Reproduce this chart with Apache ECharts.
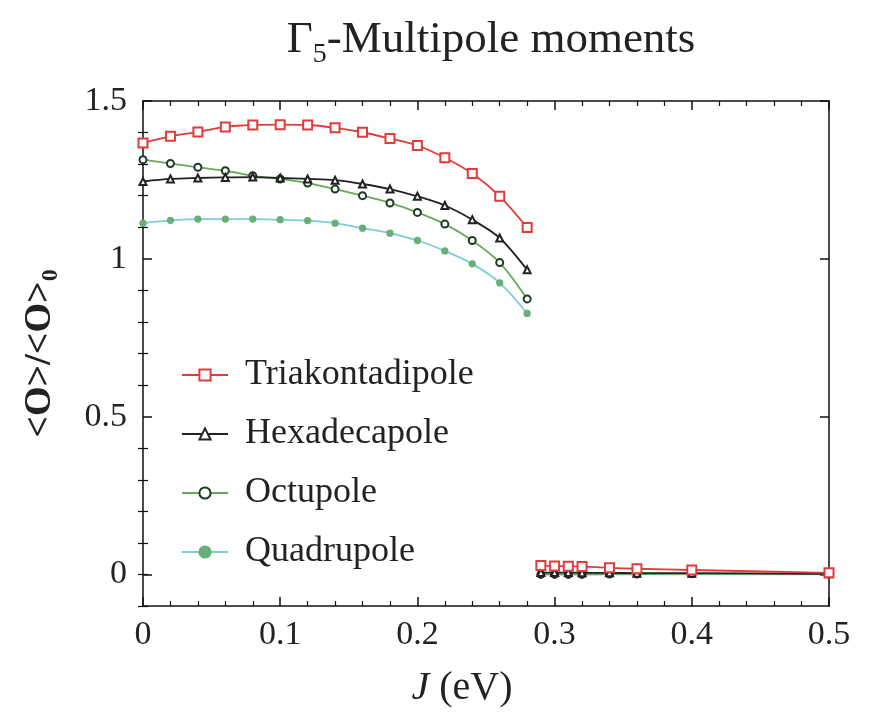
<!DOCTYPE html>
<html><head><meta charset="utf-8">
<script src="https://cdn.jsdelivr.net/npm/echarts@6/dist/echarts.min.js"></script>
<style>html,body{margin:0;padding:0;background:#fff}#c{width:879px;height:718px}</style>
</head><body><div id="c"></div>
<script>
// ---- data ----
const jHigh = [0,0.02,0.04,0.06,0.08,0.10,0.12,0.14,0.16,0.18,0.20,0.22,0.24,0.26,0.28];
const triHigh = [1.367,1.388,1.402,1.418,1.424,1.425,1.424,1.415,1.401,1.381,1.359,1.320,1.270,1.198,1.099];
const hexHigh = [1.245,1.253,1.256,1.258,1.259,1.256,1.253,1.249,1.237,1.221,1.198,1.169,1.124,1.066,0.965];
const octHigh = [1.314,1.302,1.290,1.279,1.263,1.253,1.240,1.221,1.200,1.177,1.147,1.110,1.058,0.988,0.873];
const quaHigh = [1.113,1.122,1.126,1.126,1.126,1.124,1.121,1.113,1.097,1.081,1.058,1.025,0.984,0.924,0.827];

const jLow = [0.29,0.30,0.31,0.32,0.34,0.36,0.40,0.50];
const triLow = [0.028,0.027,0.026,0.025,0.021,0.018,0.014,0.005];
const hexLow = [0.006,0.006,0.006,0.005,0.005,0.004,0.004,0.002];
const octLow = [0.000,0.000,0.000,0.000,0.001,0.001,0.002,0.001];
const quaLow = [0.000,0.000,0.000,0.000,0.000,0.000,0.000,0.000];

const names = ['Triakontadipole','Hexadecapole','Octupole','Quadrupole'];
const xTicks = [0,0.1,0.2,0.3,0.4,0.5];
const yMajorTicks = [0,0.5,1,1.5];
const yMinorTicks = [-0.1,0,0.1,0.2,0.3,0.4,0.6,0.7,0.8,0.9,1.1,1.2,1.3,1.4];

const pair = (xs, ys) => xs.map((x,i)=>[x, ys[i]]);

const serif = '"Liberation Serif","DejaVu Serif",serif';
const styles = [
  {symbol:'emptyRect', size:9, line:'#e23b3b', item:'#e23b3b', z:5},
  {symbol:'emptyTriangle', size:7, line:'#222', item:'#222', z:4},
  {symbol:'emptyCircle', size:7, line:'#6aa85a', item:'#1f3a22', z:3},
  {symbol:'circle', size:6, line:'#7ccfd6', item:'#6aae78', z:2}
];
const highs = [triHigh, hexHigh, octHigh, quaHigh];
const lows = [triLow, hexLow, octLow, quaLow];

const series = [];
names.forEach((n,i)=>{
  const s = styles[i];
  [[jHigh, highs[i]],[jLow, lows[i]]].forEach(([xs,ys])=>{
    series.push({
      name:n, type:'line', smooth:0.3, data:pair(xs,ys),
      symbol:s.symbol, symbolSize:s.size, z:s.z,
      lineStyle:{color:s.line, width:1.8},
      itemStyle:{color:s.item, borderColor:s.item, borderWidth:1.3},
      emphasis:{disabled:true}, animation:false
    });
  });
});

const chart = echarts.init(document.getElementById('c'));
const baseY = {type:'value', min:-0.1, max:1.5, splitLine:{show:false}, axisLine:{show:true, onZero:false, lineStyle:{color:'#111', width:1.5}}};
chart.setOption({
  animation:false,
  title:{
    text:'Γ{sub|5}-Multipole moments', left:486, textAlign:'center', top:6,
    textStyle:{fontFamily:serif, fontSize:45, fontWeight:'normal', color:'#222',
      rich:{sub:{fontFamily:serif, fontSize:28, verticalAlign:'bottom', padding:[30,0,0,0], color:'#222'}}}
  },
  grid:{left:143, top:101, right:50, bottom:112},
  legend:{
    data:names, orient:'vertical', left:176, top:350, itemWidth:46, itemHeight:14, itemGap:19,
    textStyle:{fontFamily:serif, fontSize:36, color:'#222', lineHeight:40, padding:[0,0,0,12]}
  },
  xAxis:[
    {type:'value', position:'bottom', min:0, max:0.5, interval:0.1,
     name:'{i|J} (eV)', nameLocation:'middle', nameGap:62,
     nameTextStyle:{fontFamily:serif, fontSize:40, color:'#222', padding:[0,48,0,0], rich:{i:{fontFamily:serif, fontStyle:'italic', fontSize:40, color:'#222'}}},
     axisLine:{show:true, onZero:false, lineStyle:{color:'#111', width:1.5}},
     axisTick:{show:true, inside:true, length:9, lineStyle:{color:'#111', width:1.5}},
     minorTick:{show:true, splitNumber:5, length:5, lineStyle:{color:'#111', width:1.2}},
     axisLabel:{fontFamily:serif, fontSize:34, color:'#222', margin:12, customValues:xTicks},
     splitLine:{show:false}},
    {type:'value', position:'top', min:0, max:0.5, interval:0.1,
     axisLine:{show:true, onZero:false, lineStyle:{color:'#111', width:1.5}},
     axisTick:{show:true, inside:true, length:9, lineStyle:{color:'#111', width:1.5}},
     minorTick:{show:true, splitNumber:5, length:5, lineStyle:{color:'#111', width:1.2}},
     axisLabel:{show:false}, splitLine:{show:false}}
  ],
  yAxis:[
    Object.assign({}, baseY, {position:'left',
      name:'<O>/<O>{sub|0}', nameLocation:'middle', nameGap:80, nameRotate:90,
      nameTextStyle:{fontFamily:serif, fontSize:38, fontWeight:'bold', color:'#222',
        rich:{sub:{fontFamily:serif, fontSize:24, fontWeight:'bold', color:'#222', verticalAlign:'bottom', padding:[22,0,0,0]}}},
      axisTick:{show:true, inside:true, length:9, customValues:yMajorTicks, lineStyle:{color:'#111', width:1.5}},
      axisLabel:{fontFamily:serif, fontSize:34, color:'#222', margin:16, customValues:yMajorTicks}}),
    Object.assign({}, baseY, {position:'left', axisLine:{show:false},
      axisTick:{show:true, inside:true, length:5, customValues:yMinorTicks, lineStyle:{color:'#111', width:1.2}},
      axisLabel:{show:false}}),
    Object.assign({}, baseY, {position:'right',
      axisTick:{show:true, inside:true, length:9, customValues:yMajorTicks, lineStyle:{color:'#111', width:1.5}},
      axisLabel:{show:false}}),
    Object.assign({}, baseY, {position:'right', axisLine:{show:false},
      axisTick:{show:true, inside:true, length:5, customValues:yMinorTicks, lineStyle:{color:'#111', width:1.2}},
      axisLabel:{show:false}})
  ],
  series:series
});
</script>
</body></html>
